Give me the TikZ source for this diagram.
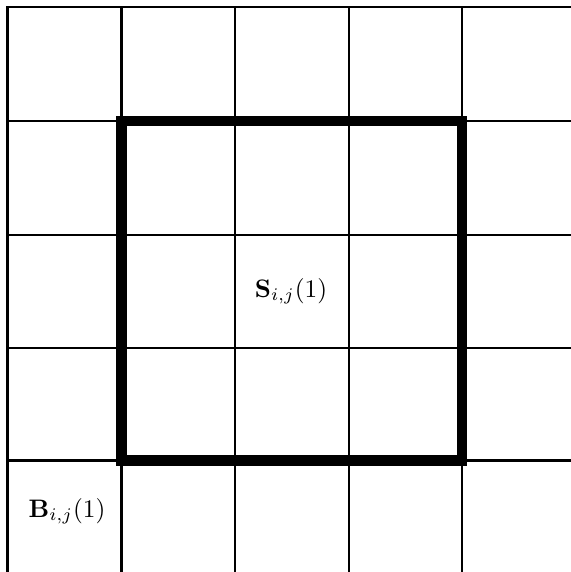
\documentclass[tikz,border=0pt]{standalone}
\begin{document}
\begin{tikzpicture}[x=0.05cm,y=-0.05cm,
  gridline/.style={line width=3.6pt,line cap=rect},
  thickbox/.style={line width=15pt,line join=miter},
  lbl/.style={anchor=base,inner sep=0pt,scale=3.6}]
\useasboundingbox (0,0) rectangle (571,572);
% coordinates
\coordinate (v0t) at (7.5,7);   \coordinate (v0b) at (7.5,572);
\coordinate (v1t) at (121.5,7); \coordinate (v1b) at (121.5,572);
\coordinate (v2t) at (235,7);   \coordinate (v2b) at (235,572);
\coordinate (v3t) at (349,7);   \coordinate (v3b) at (349,572);
\coordinate (v4t) at (462,7);   \coordinate (v4b) at (462,572);
\coordinate (h0l) at (7.5,7);     \coordinate (h0r) at (571,7);
\coordinate (h1l) at (7.5,121);   \coordinate (h1r) at (571,121);
\coordinate (h2l) at (7.5,235);   \coordinate (h2r) at (571,235);
\coordinate (h3l) at (7.5,348);   \coordinate (h3r) at (571,348);
\coordinate (h4l) at (7.5,460.5); \coordinate (h4r) at (571,460.5);
\foreach \i in {0,...,4}{
  \draw[gridline] (v\i t) -- (v\i b);
  \draw[gridline] (h\i l) -- (h\i r);
}
\coordinate (sq1) at (121.5,121);
\coordinate (sq2) at (462,460.5);
\draw[thickbox] (sq1) rectangle (sq2);
\node[lbl] (S) at (291,297) {$\mathbf{S}_{i,j}(1)$};
\node[lbl] (B) at (67,517) {$\mathbf{B}_{i,j}(1)$};
\end{tikzpicture}
\end{document}
